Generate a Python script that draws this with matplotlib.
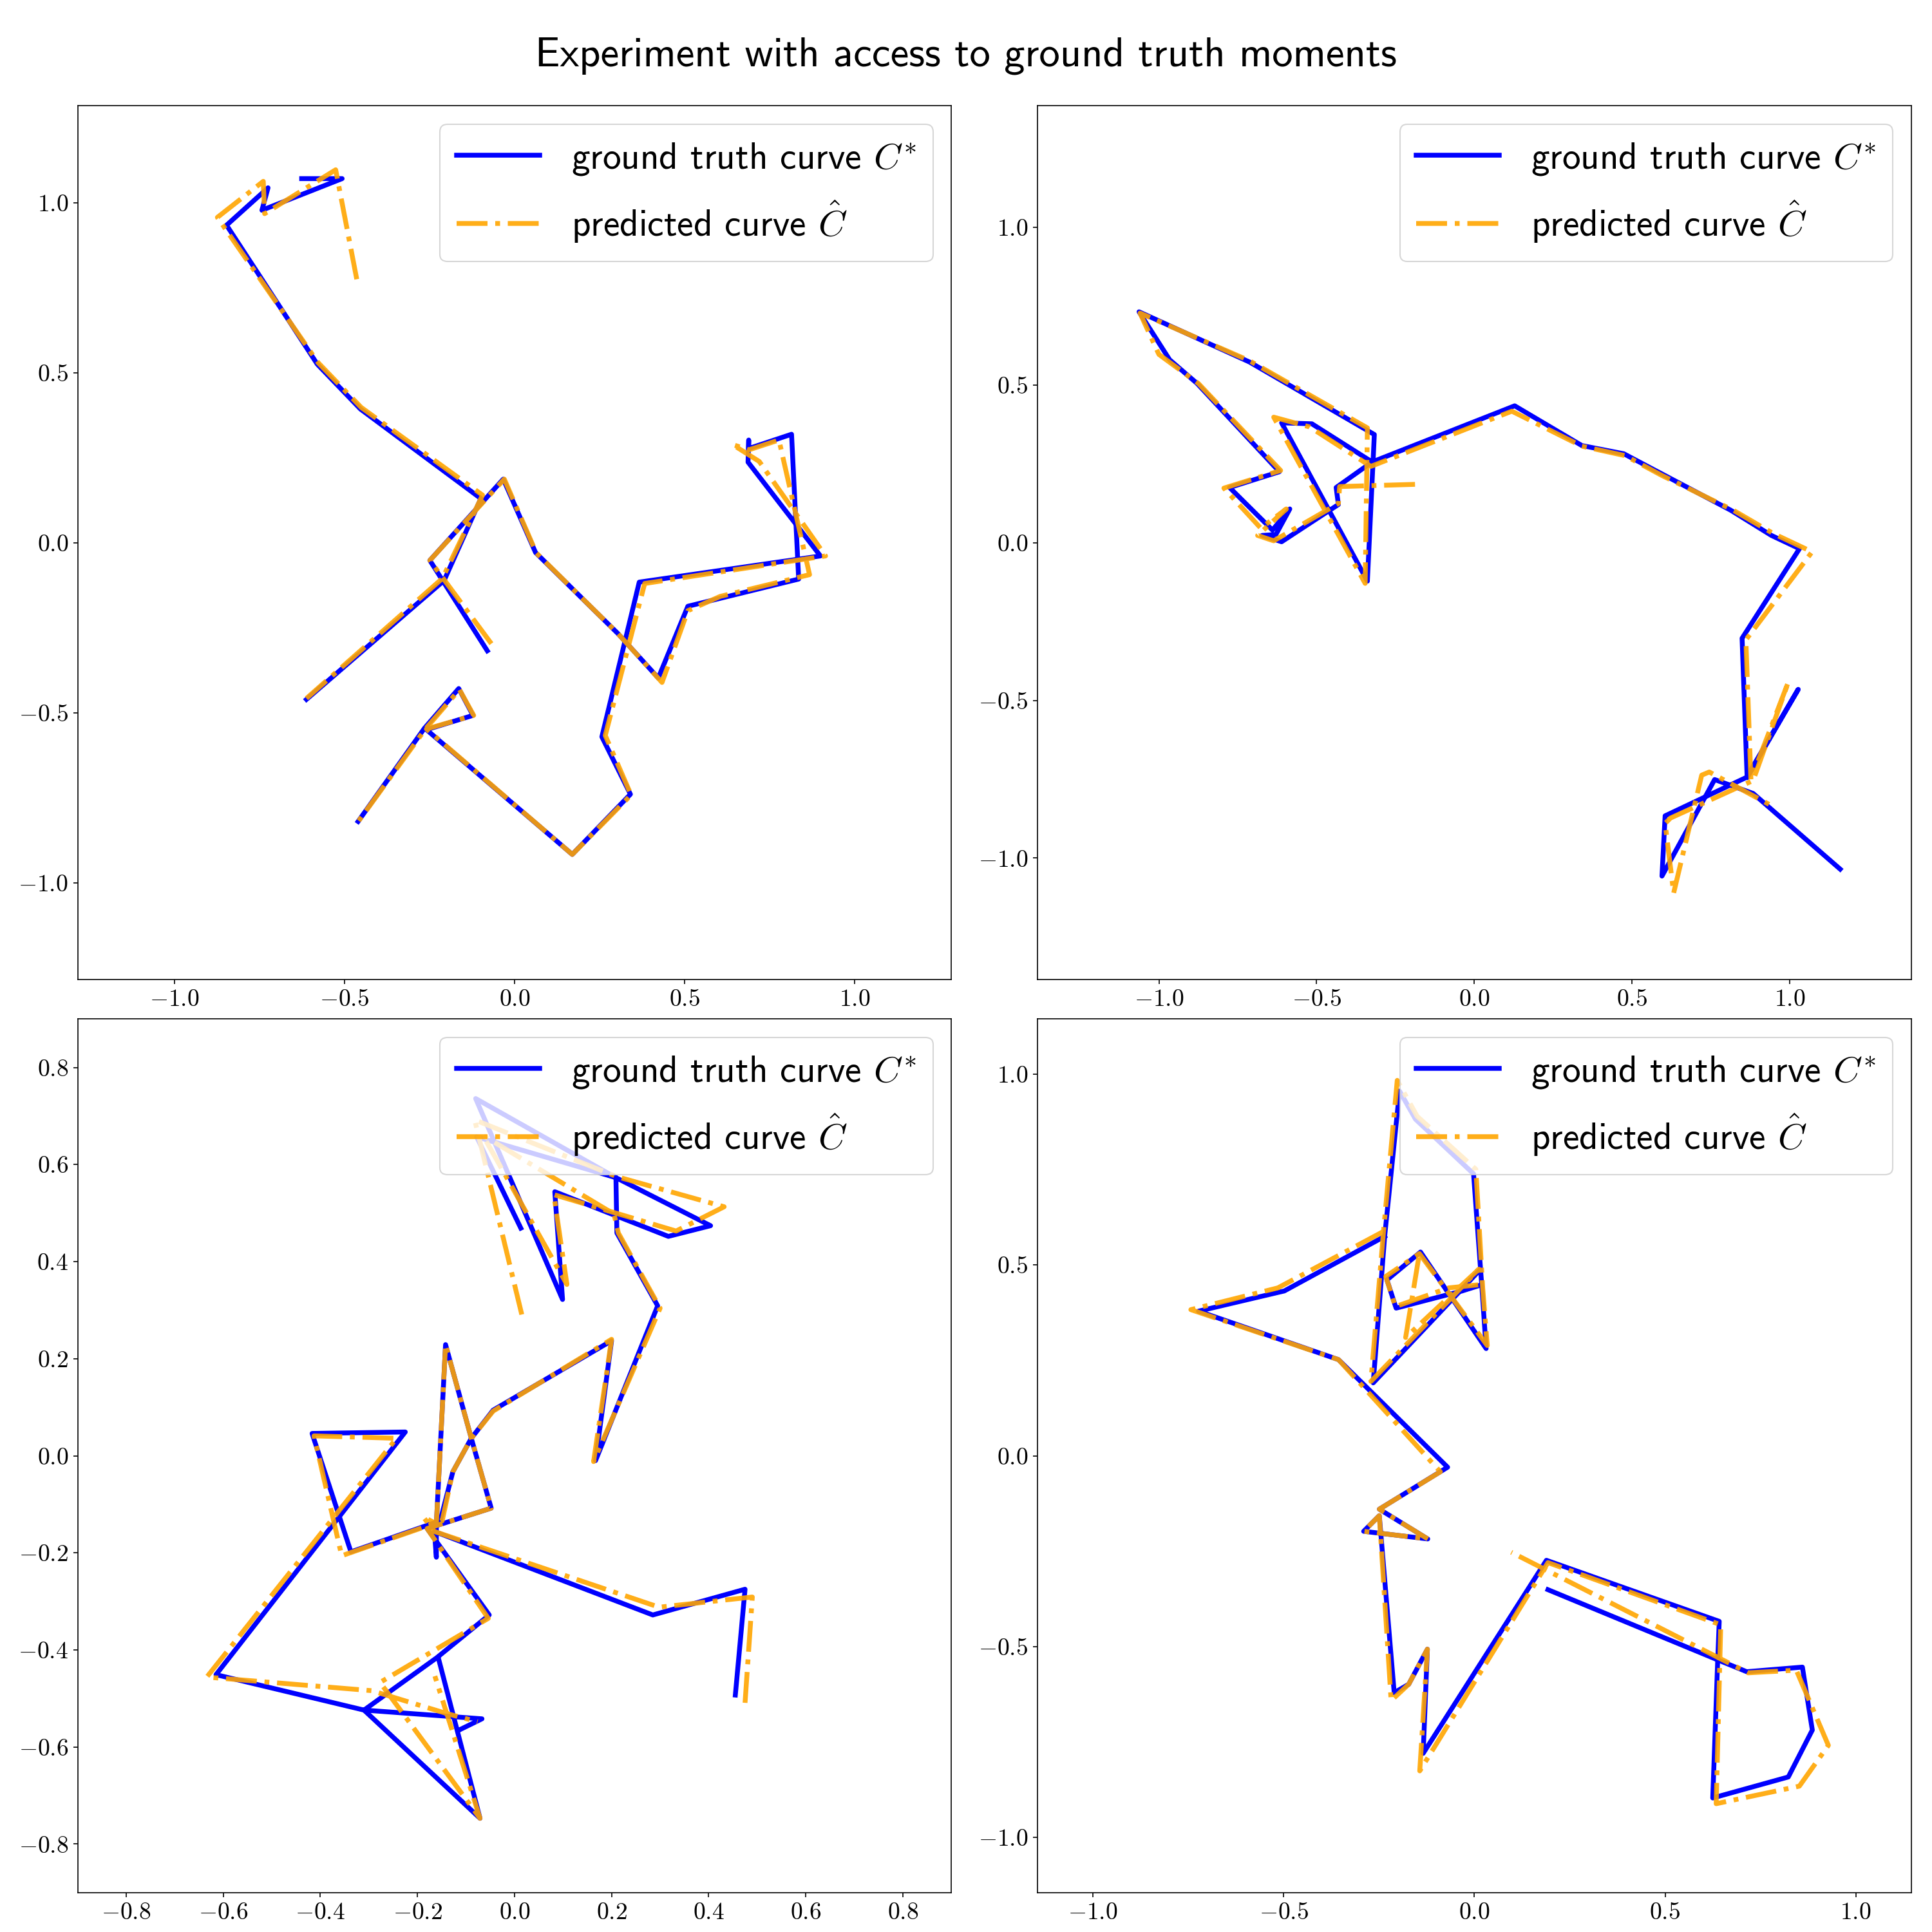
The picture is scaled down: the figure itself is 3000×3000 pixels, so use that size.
import numpy as np
import matplotlib
matplotlib.use("Agg")
import matplotlib.pyplot as plt

nan = np.nan

# ---------------- curve vertices ----------------
# panel 1 (top left)
p1_true_x = [-0.626, -0.507, -0.743, -0.725, -0.847, -0.580, -0.453, -0.099, -0.207, -0.612, nan,
             -0.080, -0.249, -0.033, 0.062, 0.304, 0.423, 0.510, 0.836, 0.815, 0.689, 0.689, 0.687,
             0.900, 0.367, 0.257, 0.341, 0.170, -0.259, -0.122, -0.164, -0.265, -0.460]
p1_true_y = [1.071, 1.071, 0.978, 1.044, 0.934, 0.525, 0.393, 0.130, -0.111, -0.461, nan,
             -0.318, -0.052, 0.187, -0.029, -0.267, -0.398, -0.187, -0.107, 0.319, 0.277, 0.302, 0.237,
             -0.039, -0.116, -0.571, -0.740, -0.917, -0.550, -0.508, -0.429, -0.546, -0.820]
p1_pred_x = [-0.464, -0.526, -0.735, -0.739, -0.874, -0.578, -0.451, -0.094, -0.212, -0.612, nan,
             -0.068, -0.249, -0.030, 0.064, 0.304, 0.434, 0.510, 0.605, 0.868, 0.778, 0.689, 0.641,
             0.720, 0.915, 0.383, 0.267, 0.343, 0.170, -0.259, -0.120, -0.162, -0.262, -0.458]
p1_pred_y = [0.775, 1.097, 0.968, 1.063, 0.957, 0.530, 0.398, 0.140, -0.105, -0.458, nan,
             -0.297, -0.052, 0.187, -0.030, -0.267, -0.411, -0.200, -0.158, -0.094, 0.302, 0.273, 0.289,
             0.239, -0.039, -0.120, -0.567, -0.742, -0.917, -0.548, -0.508, -0.432, -0.548, -0.818]

# panel 2 (top right)
p2_true_x = [-0.324, -0.438, -0.431, -0.611, -0.673, -0.629, -0.585, -0.640, -0.776, -0.618, -0.879,
             -0.966, -1.063, -0.713, -0.317, -0.339, -0.611, -0.515, -0.324, 0.128, 0.341, 0.474,
             0.595, 0.813, 0.942, 1.031, 0.849, 0.865, 1.027, 0.863, 0.605, 0.595, 0.762, 0.884, 1.160]
p2_true_y = [0.256, 0.175, 0.121, 0.003, 0.023, 0.026, 0.107, 0.040, 0.175, 0.225, 0.505,
             0.580, 0.732, 0.573, 0.343, -0.122, 0.380, 0.377, 0.256, 0.434, 0.308, 0.282,
             0.218, 0.103, 0.023, -0.019, -0.303, -0.745, -0.465, -0.744, -0.866, -1.057, -0.751, -0.795, -1.035]
p2_pred_x = [-0.188, -0.427, -0.431, -0.636, -0.687, -0.596, -0.677, -0.794, -0.614, -0.875, -1.000,
             -1.060, -0.713, -0.339, -0.346, -0.636, -0.522, -0.328, 0.119, 0.341, 0.478, 0.595,
             0.821, 0.948, 1.071, 0.861, 0.877, 0.996, 0.884, 0.622, 0.605, 0.632, 0.721, 0.745, 0.952]
p2_pred_y = [0.185, 0.178, 0.124, 0.006, 0.023, 0.107, 0.046, 0.173, 0.229, 0.505, 0.597,
             0.728, 0.577, 0.364, -0.129, 0.398, 0.367, 0.242, 0.417, 0.306, 0.276, 0.213,
             0.103, 0.029, -0.029, -0.308, -0.751, -0.441, -0.754, -0.873, -0.890, -1.111, -0.737, -0.727, -0.839]

# panel 3 (bottom left)
p3_true_x = [0.013, -0.078, 0.209, -0.080, 0.099, 0.083, 0.317, 0.404, 0.209, 0.211, 0.295, 0.167,
             0.200, -0.044, -0.089, -0.127, -0.153, -0.337, -0.417, -0.225, -0.615, -0.310, -0.067,
             -0.116, nan, 0.455, 0.475, 0.285, -0.165, -0.161, -0.161, -0.142, -0.089, -0.048,
             -0.180, -0.052, -0.160, -0.310, -0.071, -0.157]
p3_true_y = [0.469, 0.657, 0.573, 0.736, 0.322, 0.544, 0.452, 0.474, 0.573, 0.459, 0.309, -0.010,
             0.237, 0.094, 0.036, -0.033, -0.134, -0.198, 0.046, 0.049, -0.451, -0.524, -0.542,
             -0.566, nan, -0.493, -0.275, -0.328, -0.156, -0.209, -0.140, 0.229, 0.036, -0.108,
             -0.150, -0.328, -0.416, -0.524, -0.747, -0.416]
p3_pred_x = [0.015, -0.082, 0.211, 0.432, 0.333, 0.081, 0.108, -0.065, 0.205, 0.214, 0.300, 0.163,
             0.200, -0.044, -0.089, -0.127, -0.149, -0.356, -0.413, -0.243, -0.634, -0.294, -0.140,
             -0.076, nan, 0.475, 0.490, 0.298, -0.165, -0.188, -0.161, -0.142, -0.089, -0.048,
             -0.180, -0.054, -0.277, -0.071, -0.164]
p3_pred_y = [0.291, 0.692, 0.575, 0.513, 0.463, 0.538, 0.353, 0.660, 0.498, 0.459, 0.304, -0.012,
             0.240, 0.092, 0.036, -0.033, -0.134, -0.206, 0.041, 0.036, -0.456, -0.484, -0.531,
             -0.548, nan, -0.509, -0.291, -0.312, -0.156, -0.126, -0.140, 0.229, 0.036, -0.108,
             -0.150, -0.335, -0.467, -0.747, -0.454]

# panel 4 (bottom right)
p4_true_x = [0.009, -0.032, -0.205, -0.229, -0.141, 0.031, 0.020, -0.002, -0.154, -0.196, -0.235,
             -0.265, 0.009, nan, -0.235, -0.498, -0.723, -0.356, -0.070, -0.249, -0.122, -0.290,
             -0.249, -0.210, -0.172, -0.123, -0.134, 0.189, 0.642, 0.638, 0.625, 0.823, 0.886,
             0.860, 0.714, 0.638, 0.193]
p4_true_y = [0.445, 0.432, 0.387, 0.461, 0.534, 0.281, 0.440, 0.739, 0.882, 0.956, 0.575,
             0.191, 0.481, nan, 0.575, 0.432, 0.379, 0.252, -0.030, -0.140, -0.218, -0.198,
             -0.157, -0.621, -0.599, -0.507, -0.780, -0.274, -0.434, -0.535, -0.897, -0.842, -0.719,
             -0.554, -0.566, -0.535, -0.351]
p4_pred_x = [0.010, -0.067, -0.207, -0.232, -0.144, 0.034, 0.022, 0.004, -0.150, -0.202, -0.238,
             -0.271, 0.012, -0.180, -0.144, nan, -0.238, -0.515, -0.743, -0.356, -0.089, -0.249,
             -0.122, -0.290, -0.249, -0.218, -0.172, -0.123, -0.143, 0.193, 0.646, 0.634, 0.852,
             0.928, 0.844, 0.718, 0.097]
p4_pred_y = [0.448, 0.440, 0.391, 0.470, 0.530, 0.289, 0.440, 0.751, 0.890, 0.984, 0.588,
             0.195, 0.489, 0.310, 0.530, nan, 0.588, 0.440, 0.383, 0.252, -0.042, -0.140,
             -0.218, -0.198, -0.157, -0.642, -0.599, -0.507, -0.826, -0.280, -0.443, -0.912, -0.866,
             -0.759, -0.562, -0.569, -0.253]

# symmetric axis half-widths of the four panels
panel_lims = [1.285, 1.385, 0.9, 1.145]


# ---------------- style ----------------
plt.rcParams['font.family'] = 'serif'
plt.rcParams['font.serif'] = ['cmr10', 'DejaVu Serif']
plt.rcParams['mathtext.fontset'] = 'cm'
plt.rcParams['axes.formatter.use_mathtext'] = True
plt.rcParams['axes.unicode_minus'] = True

sans = 'cmss10'


def draw_panel(ax, tx, ty, px, py, lim):
    ax.plot(tx, ty, color='blue', lw=3.6, label=r'ground truth curve $C^{*}$')
    ax.plot(px, py, color='orange', lw=3.6, ls='-.', alpha=0.9, label=r'predicted curve $\hat{C}$')
    ax.set_xlim(-lim, lim)
    ax.set_ylim(-lim, lim)
    ax.tick_params(labelsize=18)
    ax.legend(loc='upper right', prop={'family': sans, 'size': 27.5},
              handlelength=2.25, handletextpad=0.85, labelspacing=0.6, borderpad=0.45)


fig = plt.figure(figsize=(20, 20), dpi=150)

rects = [[0.0402, 0.4930, 0.4522, 0.4522],
         [0.5370, 0.4930, 0.4522, 0.4522],
         [0.0402, 0.0204, 0.4522, 0.4522],
         [0.5370, 0.0204, 0.4522, 0.4522]]

curves = [(p1_true_x, p1_true_y, p1_pred_x, p1_pred_y),
          (p2_true_x, p2_true_y, p2_pred_x, p2_pred_y),
          (p3_true_x, p3_true_y, p3_pred_x, p3_pred_y),
          (p4_true_x, p4_true_y, p4_pred_x, p4_pred_y)]

for rect, (tx, ty, px, py), lim in zip(rects, curves, panel_lims):
    ax = fig.add_axes(rect)
    draw_panel(ax, tx, ty, px, py, lim)

fig.suptitle('Experiment with access to ground truth moments', fontsize=31,
             family=sans, y=0.971, va='center')

fig.savefig('out.png', dpi=150)
